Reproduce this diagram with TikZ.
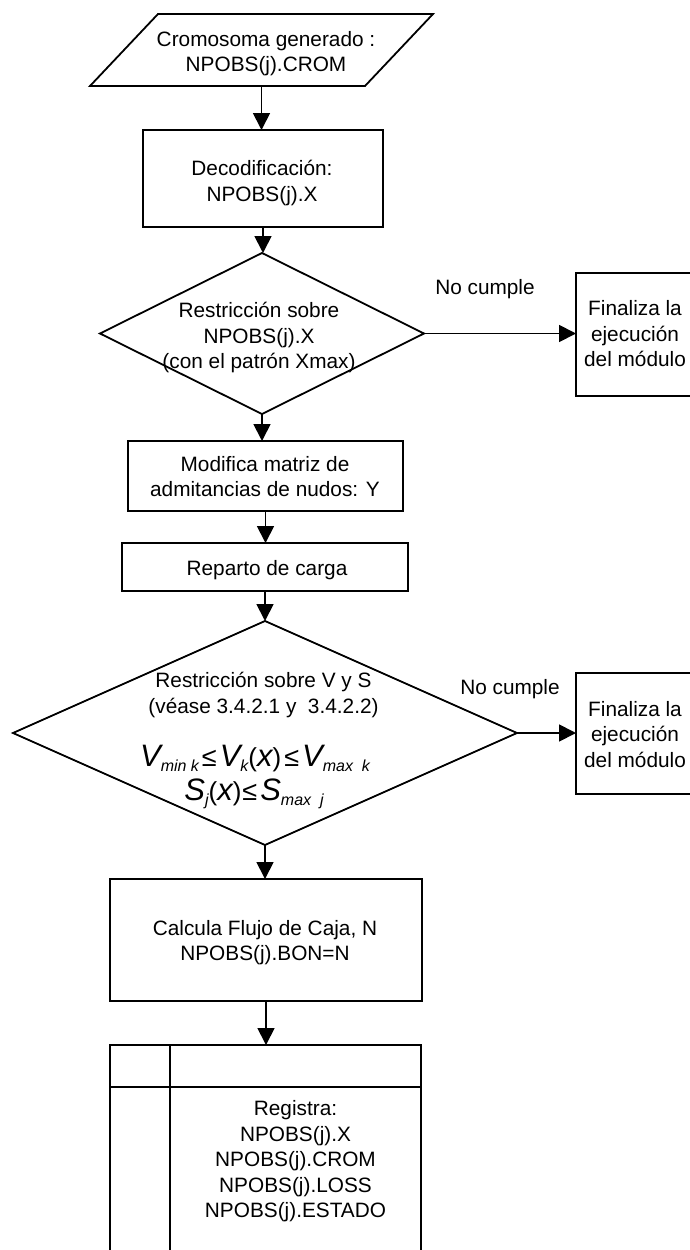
\documentclass[tikz,border=0pt]{standalone}
\usepackage{fontspec}
\setmainfont{Liberation Sans}
\usetikzlibrary{arrows.meta,shapes.geometric,calc}

% pieces of the two inequalities
\newcommand{\mvar}[1]{{\fontsize{31}{31}\selectfont\itshape #1}}
\newcommand{\msub}[1]{\raisebox{-5pt}{\fontsize{16}{16}\selectfont\itshape #1}}
\newcommand{\mpar}[1]{{\fontsize{26}{26}\selectfont #1}}
\newcommand{\mle}{\hspace{3pt}{\fontsize{27}{27}\selectfont ≤}\hspace{3pt}}

\begin{document}
\begin{tikzpicture}[x=1pt,y=-1pt,
  every node/.style={inner sep=0pt, outer sep=0pt},
  txt/.style={font=\fontsize{20.8}{25.5}\selectfont, align=center},
  frame/.style={line width=1.8pt},
  box/.style={draw, rectangle, line width=1.8pt},
  dia/.style={draw, diamond, line width=1.8pt},
  arr/.style={line width=1.8pt, -{Triangle[length=17pt,width=17pt]}}]

\useasboundingbox (0,0) rectangle (689,1250);

% input: generated chromosome
\node[minimum width=343pt, minimum height=72pt] (inp) at (261.5,50) {};
\draw[frame] (inp.south west) -- ($(inp.north west)+(68,0)$) -- (inp.north east)
  -- ($(inp.south east)+(-68,0)$) -- cycle;
\node[txt] (inpT) at (266,53.6) {Cromosoma generado :\\NPOBS(j).CROM};

% decoding
\node[box, minimum width=240pt, minimum height=97pt] (dec) at (263,178.5) {};
\node[txt] (decT) at (262,183.2) {Decodificación:\\NPOBS(j).X};

% first check
\node[dia, minimum width=324pt, minimum height=161pt] (d1) at (262,333.5) {};
\node[txt] (d1T) at (259,337.7) {Restricción sobre\\NPOBS(j).X\\(con el patrón Xmax)};

\node[box, minimum width=123pt, minimum height=123pt] (f1) at (637.5,334.5) {};
\node[txt] (f1T) at (635,334) {Finaliza la\\ejecución\\del módulo};
\node[txt, anchor=base] (nc1) at (485,294) {No cumple};

% admittance matrix and load flow
\node[box, minimum width=275pt, minimum height=70pt] (mod) at (265.5,476) {};
\node[txt] (modT) at (265,476.5) {Modifica matriz de\\admitancias de nudos: Y};

\node[box, minimum width=286pt, minimum height=48pt] (rep) at (265,567) {};
\node[txt, anchor=base] (repT) at (267,575) {Reparto de carga};

% second check
\node[dia, minimum width=504pt, minimum height=224pt] (d2) at (265,733) {};
\node[txt] (d2T) at (263.5,695.2) {Restricción sobre V y S\\(véase 3.4.2.1 y~~3.4.2.2)};
\node[anchor=base] (m1) at (255,766)
  {\mvar{V}\msub{min k}\mle\mvar{V}\msub{k}\mpar{(}\mvar{x}\mpar{)}\mle\mvar{V}\msub{max~~k}};
\node[anchor=base] (m2) at (254,800)
  {\mvar{S}\msub{j}\mpar{(}\mvar{x}\mpar{)}\hspace{1pt}{\fontsize{27}{27}\selectfont ≤}\hspace{3pt}\mvar{S}\msub{max~~j}};

\node[box, minimum width=123pt, minimum height=121pt] (f2) at (637.5,733.5) {};
\node[txt] (f2T) at (635,734.5) {Finaliza la\\ejecución\\del módulo};
\node[txt, anchor=base] (nc2) at (510,694) {No cumple};

% cash flow
\node[box, minimum width=312pt, minimum height=122pt] (cal) at (266,940) {};
\node[txt] (calT) at (265,942.7) {Calcula Flujo de Caja, N\\NPOBS(j).BON=N};

% record
\node[box, minimum width=311pt, minimum height=225pt] (reg) at (265.5,1157.5) {};
\draw[frame] ([xshift=60pt]reg.north west) -- ([xshift=60pt]reg.south west);
\draw[frame] ([yshift=-42pt]reg.north west) -- ([yshift=-42pt]reg.north east);
\node[txt] (regT) at (295.5,1161.2)
  {Registra:\\NPOBS(j).X\\NPOBS(j).CROM\\NPOBS(j).LOSS\\NPOBS(j).ESTADO};

% connectors
\draw[arr] (inp.south) -- (inp.south |- dec.north);
\draw[arr] (dec.south) -- (dec.south |- d1.north);
\draw[arr] (d1.south) -- (d1.south |- mod.north);
\draw[arr] (mod.south) -- (mod.south |- rep.north);
\draw[arr] (rep.south) -- (rep.south |- d2.north);
\draw[arr] (d2.south) -- (d2.south |- cal.north);
\draw[arr] (cal.south) -- (cal.south |- reg.north);
\draw[arr] (d1.east) -- (d1.east -| f1.west);
\draw[arr] (d2.east) -- (d2.east -| f2.west);

\end{tikzpicture}
\end{document}
